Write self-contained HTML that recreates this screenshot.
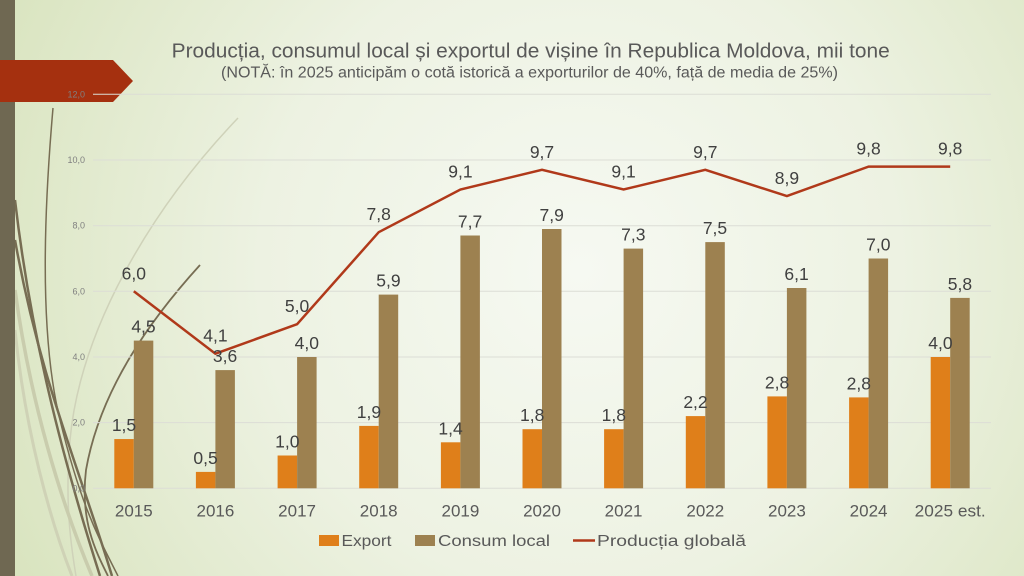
<!DOCTYPE html>
<html>
<head>
<meta charset="utf-8">
<style>
html,body{margin:0;padding:0;width:1024px;height:576px;overflow:hidden;}
svg{display:block;}
text{font-family:"Liberation Sans", sans-serif;}
</style>
</head>
<body>
<svg width="1024" height="576" viewBox="0 0 1024 576" xmlns="http://www.w3.org/2000/svg">
<defs>
<radialGradient id="bg" gradientUnits="userSpaceOnUse" cx="580" cy="270" r="640">
<stop offset="0" stop-color="#f6f9f2"/>
<stop offset="0.5" stop-color="#edf2e2"/>
<stop offset="1" stop-color="#d9e4bf"/>
</radialGradient>
</defs>
<rect x="0" y="0" width="1024" height="576" fill="url(#bg)"/>

<!-- decorative curves -->
<g fill="none">
<path d="M238,118 C150,210 80,330 70,440 C65,500 70,540 76,576" stroke="#cfd2b9" stroke-width="1.5"/>
<path d="M15,290 C30,400 60,500 92,576" stroke="#c9ccad" stroke-width="3.5"/>
<path d="M15,330 C25,430 50,520 72,576" stroke="#cfd2b6" stroke-width="3"/>
<path d="M15,200 C30,330 60,450 100,576" stroke="#776d53" stroke-width="2.5"/>
<path d="M15,240 C40,380 80,470 112,576" stroke="#776d53" stroke-width="2.5"/>
<path d="M53,108 C45,200 38,330 60,420 S100,540 118,576" stroke="#776d53" stroke-width="1.5"/>
<path d="M200,265 C150,320 100,390 86,470 C80,520 95,550 108,576" stroke="#776d53" stroke-width="1.8"/>
</g>

<!-- left strip -->
<rect x="0" y="0" width="15" height="576" fill="#6f6852"/>
<!-- red arrow -->
<polygon points="0,60 113,60 133,81 113,102 0,102" fill="#a5300f"/>

<!-- title -->
<text x="171.7" y="57.7" font-size="20" fill="#595959" textLength="718" lengthAdjust="spacingAndGlyphs">Producția, consumul local și exportul de vișine în Republica Moldova, mii tone</text>
<text x="221" y="77.7" font-size="15.5" fill="#595959" textLength="617" lengthAdjust="spacingAndGlyphs">(NOTĂ: în 2025 anticipăm o cotă istorică a exporturilor de 40%, față de media de 25%)</text>

<!-- gridlines -->
<g stroke="#dcddd6" stroke-width="1">
<line x1="93" y1="94.3" x2="991" y2="94.3"/>
<line x1="93" y1="160" x2="991" y2="160"/>
<line x1="93" y1="225.7" x2="991" y2="225.7"/>
<line x1="93" y1="291.3" x2="991" y2="291.3"/>
<line x1="93" y1="357" x2="991" y2="357"/>
<line x1="93" y1="422.6" x2="991" y2="422.6"/>
<line x1="93" y1="488.3" x2="991" y2="488.3"/>
</g>

<!-- y axis labels -->
<g font-size="9" fill="#808080" text-anchor="end">
<text x="85" y="97.3">12,0</text>
<text x="85" y="163">10,0</text>
<text x="85" y="228.7">8,0</text>
<text x="85" y="294.3">6,0</text>
<text x="85" y="360">4,0</text>
<text x="85" y="425.6">2,0</text>
<text x="85" y="491.3">0,0</text>
</g>

<!-- export bars -->
<g fill="#df7f1a">
<rect x="114.3" y="439.05" width="19.5" height="49.25"/>
<rect x="195.9" y="471.9" width="19.5" height="16.4"/>
<rect x="277.6" y="455.5" width="19.5" height="32.8"/>
<rect x="359.2" y="425.9" width="19.5" height="62.4"/>
<rect x="440.9" y="442.3" width="19.5" height="46"/>
<rect x="522.5" y="429.2" width="19.5" height="59.1"/>
<rect x="604.1" y="429.2" width="19.5" height="59.1"/>
<rect x="685.8" y="416.1" width="19.5" height="72.2"/>
<rect x="767.4" y="396.4" width="19.5" height="91.9"/>
<rect x="849.1" y="397.4" width="19.5" height="90.9"/>
<rect x="930.7" y="357" width="19.5" height="131.3"/>
</g>
<!-- consum bars -->
<g fill="#9d8150">
<rect x="133.8" y="340.6" width="19.5" height="147.7"/>
<rect x="215.4" y="370.1" width="19.5" height="118.2"/>
<rect x="297.1" y="357" width="19.5" height="131.3"/>
<rect x="378.7" y="294.6" width="19.5" height="193.7"/>
<rect x="460.4" y="235.5" width="19.5" height="252.8"/>
<rect x="542" y="229" width="19.5" height="259.3"/>
<rect x="623.6" y="248.6" width="19.5" height="239.7"/>
<rect x="705.3" y="242.1" width="19.5" height="246.2"/>
<rect x="786.9" y="288" width="19.5" height="200.3"/>
<rect x="868.6" y="258.5" width="19.5" height="229.8"/>
<rect x="950.2" y="297.9" width="19.5" height="190.4"/>
</g>

<!-- production line -->
<polyline fill="none" stroke="#b0391a" stroke-width="2.5" stroke-linejoin="miter"
points="133.8,291.3 215.4,353.7 297.1,324.2 378.7,232.2 460.4,189.5 542,169.8 623.6,189.5 705.3,169.8 786.9,196.1 868.6,166.6 950.2,166.6"/>

<!-- data labels -->
<g font-size="17.5" fill="#404040" text-anchor="middle">
<!-- export -->
<text x="124" y="431">1,5</text>
<text x="205.6" y="463.9">0,5</text>
<text x="287.3" y="447.5">1,0</text>
<text x="368.9" y="417.9">1,9</text>
<text x="450.6" y="434.3">1,4</text>
<text x="532.2" y="421.2">1,8</text>
<text x="613.8" y="421.2">1,8</text>
<text x="695.5" y="408.1">2,2</text>
<text x="777.1" y="388.4">2,8</text>
<text x="858.8" y="389.4">2,8</text>
<text x="940.4" y="349">4,0</text>
<!-- consum -->
<text x="143.5" y="332.6">4,5</text>
<text x="225.1" y="362.1">3,6</text>
<text x="306.8" y="349">4,0</text>
<text x="388.4" y="286.6">5,9</text>
<text x="470.1" y="227.5">7,7</text>
<text x="551.7" y="221">7,9</text>
<text x="633.3" y="240.6">7,3</text>
<text x="715" y="234.1">7,5</text>
<text x="796.6" y="280">6,1</text>
<text x="878.3" y="250.5">7,0</text>
<text x="959.9" y="289.9">5,8</text>
<!-- production -->
<text x="133.8" y="279.5">6,0</text>
<text x="215.4" y="341.7">4,1</text>
<text x="297.1" y="312.2">5,0</text>
<text x="378.7" y="220.2">7,8</text>
<text x="460.4" y="177.5">9,1</text>
<text x="542" y="157.8">9,7</text>
<text x="623.6" y="177.5">9,1</text>
<text x="705.3" y="157.8">9,7</text>
<text x="786.9" y="184.1">8,9</text>
<text x="868.6" y="154.6">9,8</text>
<text x="950.2" y="154.6">9,8</text>
</g>

<!-- category labels -->
<g font-size="17" fill="#595959" text-anchor="middle">
<text x="133.8" y="516.7">2015</text>
<text x="215.4" y="516.7">2016</text>
<text x="297.1" y="516.7">2017</text>
<text x="378.7" y="516.7">2018</text>
<text x="460.4" y="516.7">2019</text>
<text x="542" y="516.7">2020</text>
<text x="623.6" y="516.7">2021</text>
<text x="705.3" y="516.7">2022</text>
<text x="786.9" y="516.7">2023</text>
<text x="868.6" y="516.7">2024</text>
<text x="950.2" y="516.7" textLength="71" lengthAdjust="spacingAndGlyphs">2025 est.</text>
</g>

<!-- legend -->
<rect x="319" y="535" width="20" height="11" fill="#df7f1a"/>
<text x="341.5" y="546" font-size="15.5" fill="#595959" textLength="50" lengthAdjust="spacingAndGlyphs">Export</text>
<rect x="415" y="535" width="20" height="11" fill="#9d8150"/>
<text x="438" y="546" font-size="15.5" fill="#595959" textLength="112" lengthAdjust="spacingAndGlyphs">Consum local</text>
<line x1="573" y1="540.5" x2="595" y2="540.5" stroke="#b0391a" stroke-width="2.5"/>
<text x="597" y="546" font-size="15.5" fill="#595959" textLength="149" lengthAdjust="spacingAndGlyphs">Producția globală</text>
</svg>
</body>
</html>
